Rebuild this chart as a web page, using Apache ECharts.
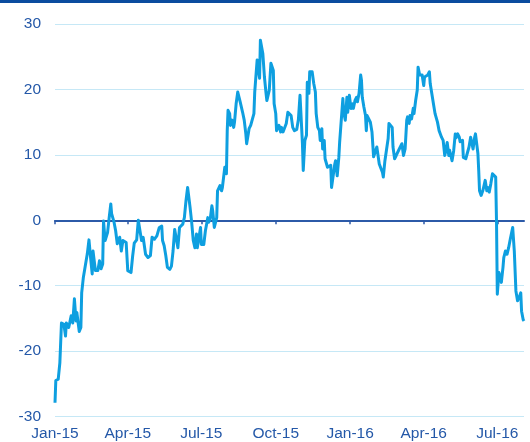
<!DOCTYPE html>
<html>
<head>
<meta charset="utf-8">
<script src="https://cdn.jsdelivr.net/npm/echarts@6/dist/echarts.min.js"></script>
<style>
  html, body { margin: 0; padding: 0; background: #fff; }
  #chart { width: 530px; height: 442px; }
</style>
</head>
<body>
<div id="chart"></div>
<script>
// daily readings, one row per month
const dates = [
  '2015-01-01','2015-01-02','2015-01-05','2015-01-07','2015-01-09','2015-01-12','2015-01-14','2015-01-15','2015-01-18','2015-01-21','2015-01-23','2015-01-25','2015-01-27','2015-01-28','2015-01-31',
  '2015-02-02','2015-02-03','2015-02-05','2015-02-07','2015-02-10','2015-02-12','2015-02-14','2015-02-16','2015-02-17','2015-02-20','2015-02-23','2015-02-25','2015-02-27',
  '2015-03-01','2015-03-02','2015-03-04','2015-03-07','2015-03-09','2015-03-11','2015-03-12','2015-03-15','2015-03-17','2015-03-19','2015-03-22','2015-03-24','2015-03-26','2015-03-30',
  '2015-04-01','2015-04-05','2015-04-07','2015-04-09','2015-04-12','2015-04-14','2015-04-15','2015-04-18','2015-04-20','2015-04-23','2015-04-26','2015-04-29',
  '2015-05-01','2015-05-04','2015-05-07','2015-05-10','2015-05-13','2015-05-14','2015-05-16','2015-05-18','2015-05-20','2015-05-23','2015-05-25','2015-05-27','2015-05-29','2015-05-31',
  '2015-06-02','2015-06-04','2015-06-06','2015-06-08','2015-06-10','2015-06-12','2015-06-14','2015-06-16','2015-06-17','2015-06-19','2015-06-21','2015-06-23','2015-06-25','2015-06-26','2015-06-28','2015-06-30',
  '2015-07-01','2015-07-04','2015-07-06','2015-07-09','2015-07-10','2015-07-12','2015-07-14','2015-07-15','2015-07-17','2015-07-20','2015-07-21','2015-07-24','2015-07-26','2015-07-27','2015-07-29','2015-07-30',
  '2015-08-01','2015-08-02','2015-08-03','2015-08-05','2015-08-06','2015-08-08','2015-08-10','2015-08-11','2015-08-13','2015-08-15','2015-08-16','2015-08-18','2015-08-20','2015-08-21','2015-08-23','2015-08-25','2015-08-26','2015-08-28','2015-08-29','2015-08-31',
  '2015-09-02','2015-09-04','2015-09-05','2015-09-07','2015-09-08','2015-09-09','2015-09-11','2015-09-12','2015-09-14','2015-09-15','2015-09-17','2015-09-19','2015-09-20','2015-09-22','2015-09-23','2015-09-25','2015-09-27','2015-09-28','2015-09-29',
  '2015-10-01','2015-10-02','2015-10-03','2015-10-05','2015-10-07','2015-10-08','2015-10-10','2015-10-12','2015-10-14','2015-10-16','2015-10-18','2015-10-20','2015-10-22','2015-10-24','2015-10-27','2015-10-29','2015-10-31',
  '2015-11-01','2015-11-03','2015-11-04','2015-11-06','2015-11-08','2015-11-09','2015-11-11','2015-11-12','2015-11-14','2015-11-15','2015-11-17','2015-11-19','2015-11-20','2015-11-22','2015-11-24','2015-11-25','2015-11-27','2015-11-28','2015-11-30',
  '2015-12-01','2015-12-03','2015-12-04','2015-12-06','2015-12-08','2015-12-09','2015-12-11','2015-12-13','2015-12-14','2015-12-16','2015-12-18','2015-12-19','2015-12-21','2015-12-23','2015-12-24','2015-12-26','2015-12-28','2015-12-29','2015-12-31',
  '2016-01-02','2016-01-04','2016-01-05','2016-01-07','2016-01-09','2016-01-10','2016-01-12','2016-01-14','2016-01-15','2016-01-16','2016-01-18','2016-01-20','2016-01-21','2016-01-22','2016-01-24','2016-01-26','2016-01-28','2016-01-30',
  '2016-02-01','2016-02-03','2016-02-05','2016-02-06','2016-02-08','2016-02-10','2016-02-11','2016-02-13','2016-02-15','2016-02-17','2016-02-18','2016-02-20','2016-02-22','2016-02-23','2016-02-25','2016-02-27','2016-02-28',
  '2016-03-01','2016-03-03','2016-03-05','2016-03-07','2016-03-09','2016-03-11','2016-03-12','2016-03-14','2016-03-15','2016-03-17','2016-03-19','2016-03-20','2016-03-22','2016-03-24','2016-03-25','2016-03-27','2016-03-28','2016-03-30',
  '2016-04-01','2016-04-02','2016-04-04','2016-04-06','2016-04-08','2016-04-09','2016-04-11','2016-04-13','2016-04-15','2016-04-17','2016-04-18','2016-04-20','2016-04-22','2016-04-23','2016-04-25','2016-04-27','2016-04-28','2016-04-30',
  '2016-05-02','2016-05-03','2016-05-04','2016-05-06','2016-05-08','2016-05-10','2016-05-11','2016-05-13','2016-05-15','2016-05-16','2016-05-19','2016-05-20','2016-05-23','2016-05-25','2016-05-27','2016-05-29','2016-05-31',
  '2016-06-01','2016-06-03','2016-06-04','2016-06-06','2016-06-07','2016-06-08','2016-06-09','2016-06-11','2016-06-13','2016-06-14','2016-06-16','2016-06-18','2016-06-19','2016-06-21','2016-06-23','2016-06-25','2016-06-27','2016-06-29','2016-06-30',
  '2016-07-01','2016-07-03','2016-07-04','2016-07-06','2016-07-08','2016-07-09','2016-07-11','2016-07-13','2016-07-15','2016-07-17','2016-07-20','2016-07-22','2016-07-24','2016-07-26','2016-07-28','2016-07-30','2016-07-31',
  '2016-08-02','2016-08-03'
]
const values = [
  -27.9,-24.5,-24.3,-21.8,-15.7,-15.9,-17.7,-15.7,-16.4,-14.6,-15.7,-12.0,-15.4,-14.1,-17.0,
  -16.4,-11.1,-8.8,-9.0,-5.1,-3.0,-5.7,-8.2,-4.7,-7.7,-7.7,-6.2,-7.4,
  -6.7,-0.1,-3.1,-1.9,0.4,2.5,1.0,-0.3,-1.6,-3.6,-2.6,-4.7,-3.1,-3.4,
  -7.7,-8.0,-5.5,-3.5,-3.0,0.0,-0.1,-3.1,-2.6,-5.2,-5.7,-5.4,
  -2.6,-2.9,-2.4,-1.1,-0.9,-3.1,-3.9,-5.4,-7.2,-7.5,-7.0,-4.7,-1.4,-1.5,
  -4.2,-1.1,-1.4,-0.6,0.4,3.0,5.0,5.3,2.0,-0.3,-3.1,-4.2,-2.1,-4.2,-3.9,-1.1,
  -3.7,-3.7,-1.6,0.4,-0.3,0.2,2.2,1.5,-1.1,0.4,4.5,5.3,4.5,5.0,7.1,8.1,
  7.1,13.7,16.8,16.3,14.5,15.3,14.2,15.0,17.8,19.6,19.4,18.1,18.3,16.5,15.3,13.2,11.7,13.2,14.0,14.5,
  14.2,16.3,19.6,19.9,24.5,24.7,21.7,27.5,27.5,25.5,21.9,19.4,18.3,18.1,19.9,24.0,24.2,22.9,17.8,
  16.3,13.7,14.0,14.5,13.5,14.2,13.5,13.2,14.8,16.5,16.5,16.0,14.2,13.7,13.9,15.4,19.1,
  19.1,11.7,7.6,12.2,13.0,21.1,19.4,22.7,22.4,22.7,20.9,19.6,16.3,14.2,13.7,12.2,14.0,10.9,12.2,
  9.4,9.6,8.1,7.9,8.4,5.0,6.8,8.6,9.1,6.8,9.6,11.9,11.7,18.6,16.5,15.3,18.8,16.5,19.1,
  17.1,17.8,17.1,18.3,18.8,18.1,19.4,22.2,21.4,18.8,17.3,16.0,13.7,16.0,15.5,15.0,13.5,9.7,
  9.4,11.2,10.9,8.6,8.9,7.3,6.6,9.1,9.4,12.5,14.8,14.8,14.2,11.2,9.4,9.9,9.6,
  10.7,11.2,11.7,9.9,10.9,15.3,15.8,14.8,16.0,15.5,17.1,16.3,18.3,19.9,23.4,22.2,21.9,22.2,
  20.6,21.9,21.7,22.2,22.7,20.9,20.6,17.8,16.3,16.5,15.0,13.7,13.7,12.7,12.2,9.9,10.4,11.9,
  9.9,10.7,10.5,9.1,10.6,13.2,12.6,13.2,12.7,12.0,12.2,9.6,9.4,9.6,11.2,12.7,12.5,
  10.9,12.7,13.2,13.5,10.2,7.6,4.5,3.8,4.5,5.0,6.1,4.5,5.0,4.3,5.6,7.1,7.3,6.6,-0.1,
  -11.3,-8.0,-8.3,-9.5,-7.2,-5.7,-4.7,-5.2,-4.2,-2.9,-1.1,-4.7,-10.8,-12.3,-11.8,-11.1,-13.9,
  -15.2,-15.4
]

// quarter ticks on the x axis
const tickDates = ['2015-01-01', '2015-04-01', '2015-07-01', '2015-10-01', '2016-01-01', '2016-04-01', '2016-07-01']
const tickLabels = ['Jan-15', 'Apr-15', 'Jul-15', 'Oct-15', 'Jan-16', 'Apr-16', 'Jul-16']

const xMin = '2015-01-01'
const xMax = '2016-08-03'

const labelColor = '#2458a8'
const fontFamily = 'Liberation Sans, Arial, sans-serif'

const toTime = d => echarts.time.parse(d).getTime()
const tickTimes = tickDates.map(toTime)

function tickLabel(v) {
  let best = 0
  for (let i = 1; i < tickTimes.length; i++) {
    if (Math.abs(tickTimes[i] - v) < Math.abs(tickTimes[best] - v)) best = i
  }
  return tickLabels[best]
}

const chart = echarts.init(document.getElementById('chart'))

const option = {
  animation: false,
  backgroundColor: '#fff',
  graphic: [
    { type: 'rect', left: 0, top: 0, shape: { width: 530, height: 3 }, style: { fill: '#0b4c9f' } }
  ],
  grid: { left: 55, right: 6, top: 24, bottom: 25.5 },
  xAxis: [
    {
      type: 'value',
      min: toTime(xMin),
      max: toTime(xMax),
      position: 'bottom',
      axisLine: { show: false, onZero: false },
      axisTick: { show: false },
      splitLine: { show: false },
      axisLabel: {
        customValues: tickTimes,
        formatter: v => tickLabel(v),
        color: labelColor,
        fontSize: 15.5,
        fontFamily: fontFamily,
        margin: 9
      }
    },
    {
      // dark zero line with quarter ticks
      type: 'value',
      min: toTime(xMin),
      max: toTime(xMax),
      position: 'bottom',
      axisLine: { show: true, onZero: true, lineStyle: { color: '#2c5aa8', width: 2 } },
      axisTick: { show: true, customValues: tickTimes, length: 4, lineStyle: { color: '#2c5aa8', width: 1.5 } },
      axisLabel: { show: false },
      splitLine: { show: false }
    }
  ],
  yAxis: {
    type: 'value',
    min: -30,
    max: 30,
    interval: 10,
    axisLine: { show: false },
    axisTick: { show: false },
    splitLine: { lineStyle: { color: '#c6e8f6', width: 1 } },
    axisLabel: {
      color: labelColor,
      fontSize: 15.5,
      fontFamily: fontFamily,
      margin: 14
    }
  },
  series: [
    {
      type: 'line',
      xAxisIndex: 0,
      data: dates.map((d, i) => [toTime(d), values[i]]),
      showSymbol: false,
      lineStyle: { color: '#0e9fe0', width: 3, join: 'round' },
      itemStyle: { color: '#0e9fe0' }
    }
  ]
}

chart.setOption(option)
</script>
</body>
</html>
